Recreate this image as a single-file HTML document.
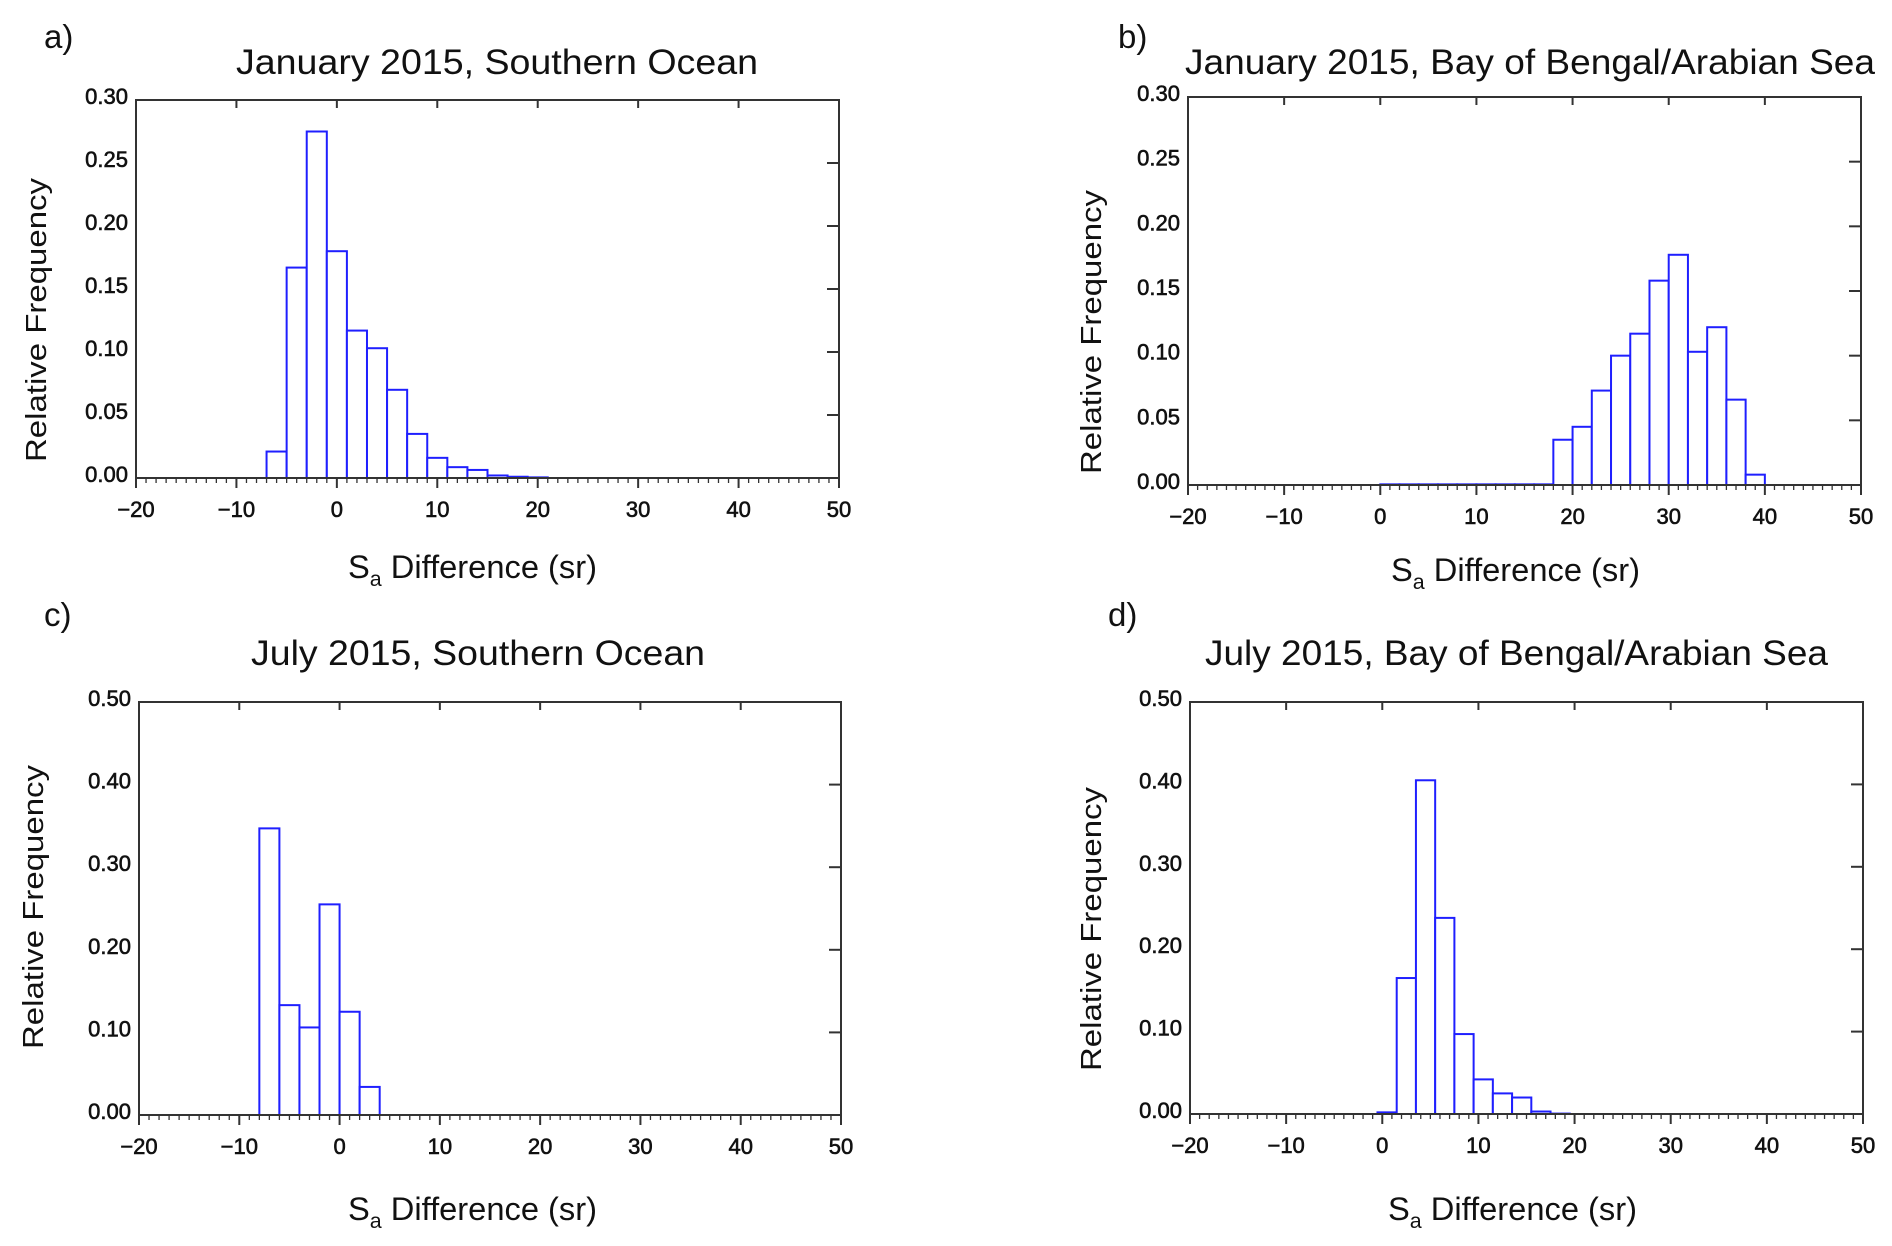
<!DOCTYPE html>
<html><head><meta charset="utf-8"><style>
html,body{margin:0;padding:0;background:#fff;}
svg{display:block;}
text{font-family:"Liberation Sans",sans-serif;fill:#111;}
.tk{stroke:#111;stroke-width:0.6;}
</style></head><body>
<svg id="fig" width="1892" height="1246" viewBox="0 0 1892 1246"></svg>
<script>
// ---- data ----
const xTicks = [-20,-10,0,10,20,30,40,50];
const yTicksA = [0,0.05,0.10,0.15,0.20,0.25,0.30];
const yTicksC = [0,0.10,0.20,0.30,0.40,0.50];
const binWidth = 2;
const aStarts = [-7,-5,-3,-1,1,3,5,7,9,11,13,15,17,19];
const aValues = [0.021,0.167,0.275,0.180,0.117,0.103,0.070,0.035,0.016,0.0086,0.0064,0.002,0.001,0.0005];
const bStarts = [0,2,4,6,8,10,12,14,16,18,20,22,24,26,28,30,32,34,36,38];
const bValues = [0.0005,0.0005,0.0005,0.0005,0.0005,0.0005,0.0005,0.0005,0.0005,0.035,0.045,0.073,0.100,0.117,0.158,0.178,0.103,0.122,0.066,0.008];
const cStarts = [-8,-6,-4,-2,0,2];
const cValues = [0.347,0.133,0.106,0.255,0.125,0.034];
const dStarts = [-0.5,1.5,3.5,5.5,7.5,9.5,11.5,13.5,15.5,17.5];
const dValues = [0.002,0.165,0.405,0.238,0.097,0.042,0.025,0.020,0.003,0.0005];

const NS="http://www.w3.org/2000/svg";
const svg=document.getElementById('fig');
function mk(tag,attrs,parent){const e=document.createElementNS(NS,tag);for(const k in attrs)e.setAttribute(k,attrs[k]);(parent||svg).appendChild(e);return e;}

function panel(p){
  const g=mk('g',{});
  
  
  const xs=v=>p.x0+(v-(-20))/70*(p.x1-p.x0);
  const ys=v=>p.yb-(v/p.ymax)*(p.yb-p.yt);
  const bg=mk('g',{},g);
  
  
  p.starts.forEach((s,i)=>{
    const x=xs(s), w=xs(s+binWidth)-x, y=ys(p.values[i]);
    const r=mk('rect',{x:x,y:y,width:w,height:p.yb-y,fill:'#fff',stroke:'#1f1fff','stroke-width':2},bg);
    
    
  });
  const fr=mk('rect',{x:p.x0,y:p.yt,width:p.x1-p.x0,height:p.yb-p.yt,fill:'none',stroke:'#333','stroke-width':2},g);
  
  
  xTicks.forEach(t=>{
    const x=xs(t);
    mk('line',{x1:x,x2:x,y1:p.yb,y2:p.yb+10,stroke:'#333','stroke-width':2},g);
    mk('line',{x1:x,x2:x,y1:p.yt,y2:p.yt+8,stroke:'#333','stroke-width':2},g);
    const tx=mk('text',{x:x,y:p.yb+39,'text-anchor':'middle','font-size':22,'class':'tk'},g);
    tx.textContent=(t<0?'\u2212'+(-t):String(t));
    
    
  });
  for(let t=-20;t<=50;t++){ if(t%10===0) continue; const x=xs(t);
    mk('line',{x1:x,x2:x,y1:p.yb,y2:p.yb+5,stroke:'#333','stroke-width':1.3},g); }
  p.yticks.forEach(t=>{
    const y=ys(t);
    mk('line',{x1:p.x1-12,x2:p.x1,y1:y,y2:y,stroke:'#333','stroke-width':2},g);
    const tx=mk('text',{x:p.x0-8,y:y+4,'text-anchor':'end','font-size':22,'class':'tk'},g);
    tx.textContent=t.toFixed(2);
    
    
  });
  const ti=mk('text',{x:p.tx,y:p.ty,'font-size':35,textLength:p.tw,lengthAdjust:'spacingAndGlyphs'},g);
  ti.textContent=p.title;
  
  
  const lb=mk('text',{x:p.lx,y:p.ly,'font-size':33},g);
  lb.textContent=p.id+')';
  
  
  const yt=mk('text',{x:0,y:0,'font-size':29,'text-anchor':'middle',textLength:284,lengthAdjust:'spacingAndGlyphs',transform:`translate(${p.ytx},${p.yty}) rotate(-90)`},g);
  yt.textContent='Relative Frequency';
  
  
  const xt=mk('text',{x:p.xtx,y:p.xty,'font-size':32},g);
  xt.innerHTML='S<tspan font-size="21" dy="8">a</tspan><tspan dy="-8"> Difference (sr)</tspan>';
  
  
  xt.setAttribute('textLength', 249);
  xt.setAttribute('lengthAdjust', 'spacingAndGlyphs');
}

panel({id:'a',x0:136,x1:839,yt:100,yb:478,ymax:0.30,yticks:yTicksA,starts:aStarts,values:aValues,
  title:'January 2015, Southern Ocean',tx:236,ty:74,tw:522,lx:44,ly:48,ytx:46,yty:320,xtx:348,xty:578});
panel({id:'b',x0:1188,x1:1861,yt:97,yb:485,ymax:0.30,yticks:yTicksA,starts:bStarts,values:bValues,
  title:'January 2015, Bay of Bengal/Arabian Sea',tx:1185,ty:74,tw:690,lx:1118,ly:48,ytx:1101,yty:332,xtx:1391,xty:581});
panel({id:'c',x0:139,x1:841,yt:702,yb:1115,ymax:0.50,yticks:yTicksC,starts:cStarts,values:cValues,
  title:'July 2015, Southern Ocean',tx:251,ty:665,tw:454,lx:44,ly:626,ytx:43,yty:907,xtx:348,xty:1220});
panel({id:'d',x0:1190,x1:1863,yt:702,yb:1114,ymax:0.50,yticks:yTicksC,starts:dStarts,values:dValues,
  title:'July 2015, Bay of Bengal/Arabian Sea',tx:1205,ty:665,tw:623,lx:1108,ly:626,ytx:1101,yty:929,xtx:1388,xty:1220});
</script>
</body></html>
